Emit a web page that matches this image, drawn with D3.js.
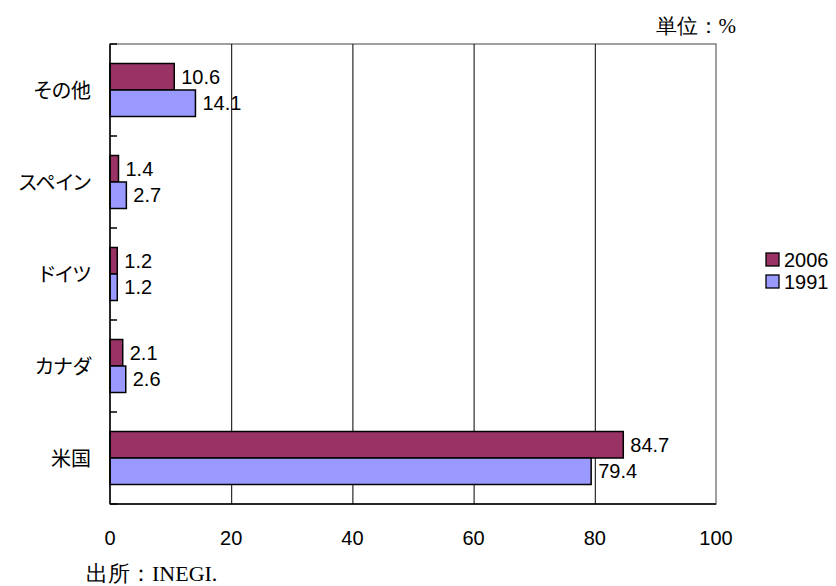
<!DOCTYPE html>
<html>
<head>
<meta charset="utf-8">
<script src="https://cdn.jsdelivr.net/npm/d3@7"></script>
<style>
  body { margin: 0; background: #fff; }
  svg { display: block; }
</style>
</head>
<body>
<svg id="chart" width="836" height="586"></svg>
<script>
// data, top to bottom as drawn
var categories = ["その他", "スペイン", "ドイツ", "カナダ", "米国"];
var values2006 = [10.6, 1.4, 1.2, 2.1, 84.7];
var values1991 = [14.1, 2.7, 1.2, 2.6, 79.4];
var seriesNames = ["2006", "1991"];
var xTicks = [0, 20, 40, 60, 80, 100];

var colors = { "2006": "#993366", "1991": "#9999ff" };
var series = [values2006, values1991];

var plotL = 110, plotR = 716, plotT = 44, plotB = 504;
var svg = d3.select("#chart");
var numFont = "Liberation Sans, Arial, sans-serif";

var x = d3.scaleLinear().domain([0, 100]).range([plotL, plotR]);
var y = d3.scaleBand().domain(categories).range([plotT, plotB]);
var inner = d3.scaleBand().domain(seriesNames).range([0, 53]);
var pad = (y.bandwidth() - 53) / 2;

// frame
svg.append("rect")
  .attr("x", plotL).attr("y", plotT)
  .attr("width", plotR - plotL).attr("height", plotB - plotT)
  .attr("fill", "none").attr("stroke", "#808080").attr("stroke-width", 1.5);

// gridlines
svg.append("g").selectAll("line")
  .data(xTicks.filter(function (d) { return d > 0 && d < 100; }))
  .enter().append("line")
  .attr("x1", function (d) { return x(d) + 0.5; })
  .attr("x2", function (d) { return x(d) + 0.5; })
  .attr("y1", plotT).attr("y2", plotB)
  .attr("stroke", "#000").attr("stroke-width", 1);

// bars
categories.forEach(function (c, i) {
  seriesNames.forEach(function (s, j) {
    var v = series[j][i];
    var by = y(c) + pad + inner(s);
    svg.append("rect")
      .attr("x", x(0))
      .attr("y", by)
      .attr("width", x(v) - x(0))
      .attr("height", inner.bandwidth())
      .attr("fill", colors[s])
      .attr("stroke", "#000").attr("stroke-width", 1.5);
    svg.append("text")
      .attr("x", x(v) + 7)
      .attr("y", by + inner.bandwidth() / 2)
      .attr("dy", "0.36em")
      .attr("font-family", numFont)
      .attr("font-size", 20)
      .attr("fill", "#000")
      .text(v.toFixed(1));
  });
});

// left axis with inward ticks
var yAxisG = svg.append("g");
yAxisG.append("line")
  .attr("x1", plotL).attr("x2", plotL).attr("y1", plotT).attr("y2", plotB)
  .attr("stroke", "#000").attr("stroke-width", 1.5);
yAxisG.selectAll(".tk")
  .data(categories.map(function (c) { return y(c); }).concat([plotB]))
  .enter().append("line")
  .attr("x1", plotL).attr("x2", plotL + 7)
  .attr("y1", function (d) { return d; }).attr("y2", function (d) { return d; })
  .attr("stroke", "#000").attr("stroke-width", 1.5);
yAxisG.selectAll(".lbl")
  .data(categories)
  .enter().append("text")
  .attr("x", plotL - 19)
  .attr("y", function (d) { return y(d) + y.bandwidth() / 2; })
  .attr("dy", "0.38em")
  .attr("text-anchor", "end")
  .attr("font-family", "Noto Sans CJK JP, sans-serif")
  .attr("font-size", 20)
  .style("font-feature-settings", "'palt' 1")
  .text(function (d) { return d; });

// bottom axis
svg.append("line")
  .attr("x1", plotL).attr("x2", plotR).attr("y1", plotB).attr("y2", plotB)
  .attr("stroke", "#000").attr("stroke-width", 1.5);
svg.append("g").selectAll("text")
  .data(xTicks)
  .enter().append("text")
  .attr("x", function (d) { return x(d); })
  .attr("y", 545)
  .attr("text-anchor", "middle")
  .attr("font-family", numFont)
  .attr("font-size", 20)
  .text(function (d) { return d; });

// legend
var legend = svg.append("g").attr("transform", "translate(766,253)");
seriesNames.forEach(function (s, i) {
  var g = legend.append("g").attr("transform", "translate(0," + i * 22 + ")");
  g.append("rect").attr("x", 0).attr("y", 0).attr("width", 13).attr("height", 13)
    .attr("fill", colors[s]).attr("stroke", "#000").attr("stroke-width", 1.3);
  g.append("text").attr("x", 18).attr("y", 7).attr("dy", "0.36em")
    .attr("font-family", numFont)
    .attr("font-size", 20)
    .text(s);
});

// notes
svg.append("text")
  .attr("x", 736).attr("y", 33).attr("text-anchor", "end")
  .attr("font-family", "Liberation Serif, serif")
  .attr("font-size", 21)
  .text("単位：%");
svg.append("text")
  .attr("x", 86).attr("y", 581)
  .attr("font-family", "Liberation Serif, serif")
  .attr("font-size", 22)
  .text("出所：INEGI.");
</script>
</body>
</html>
